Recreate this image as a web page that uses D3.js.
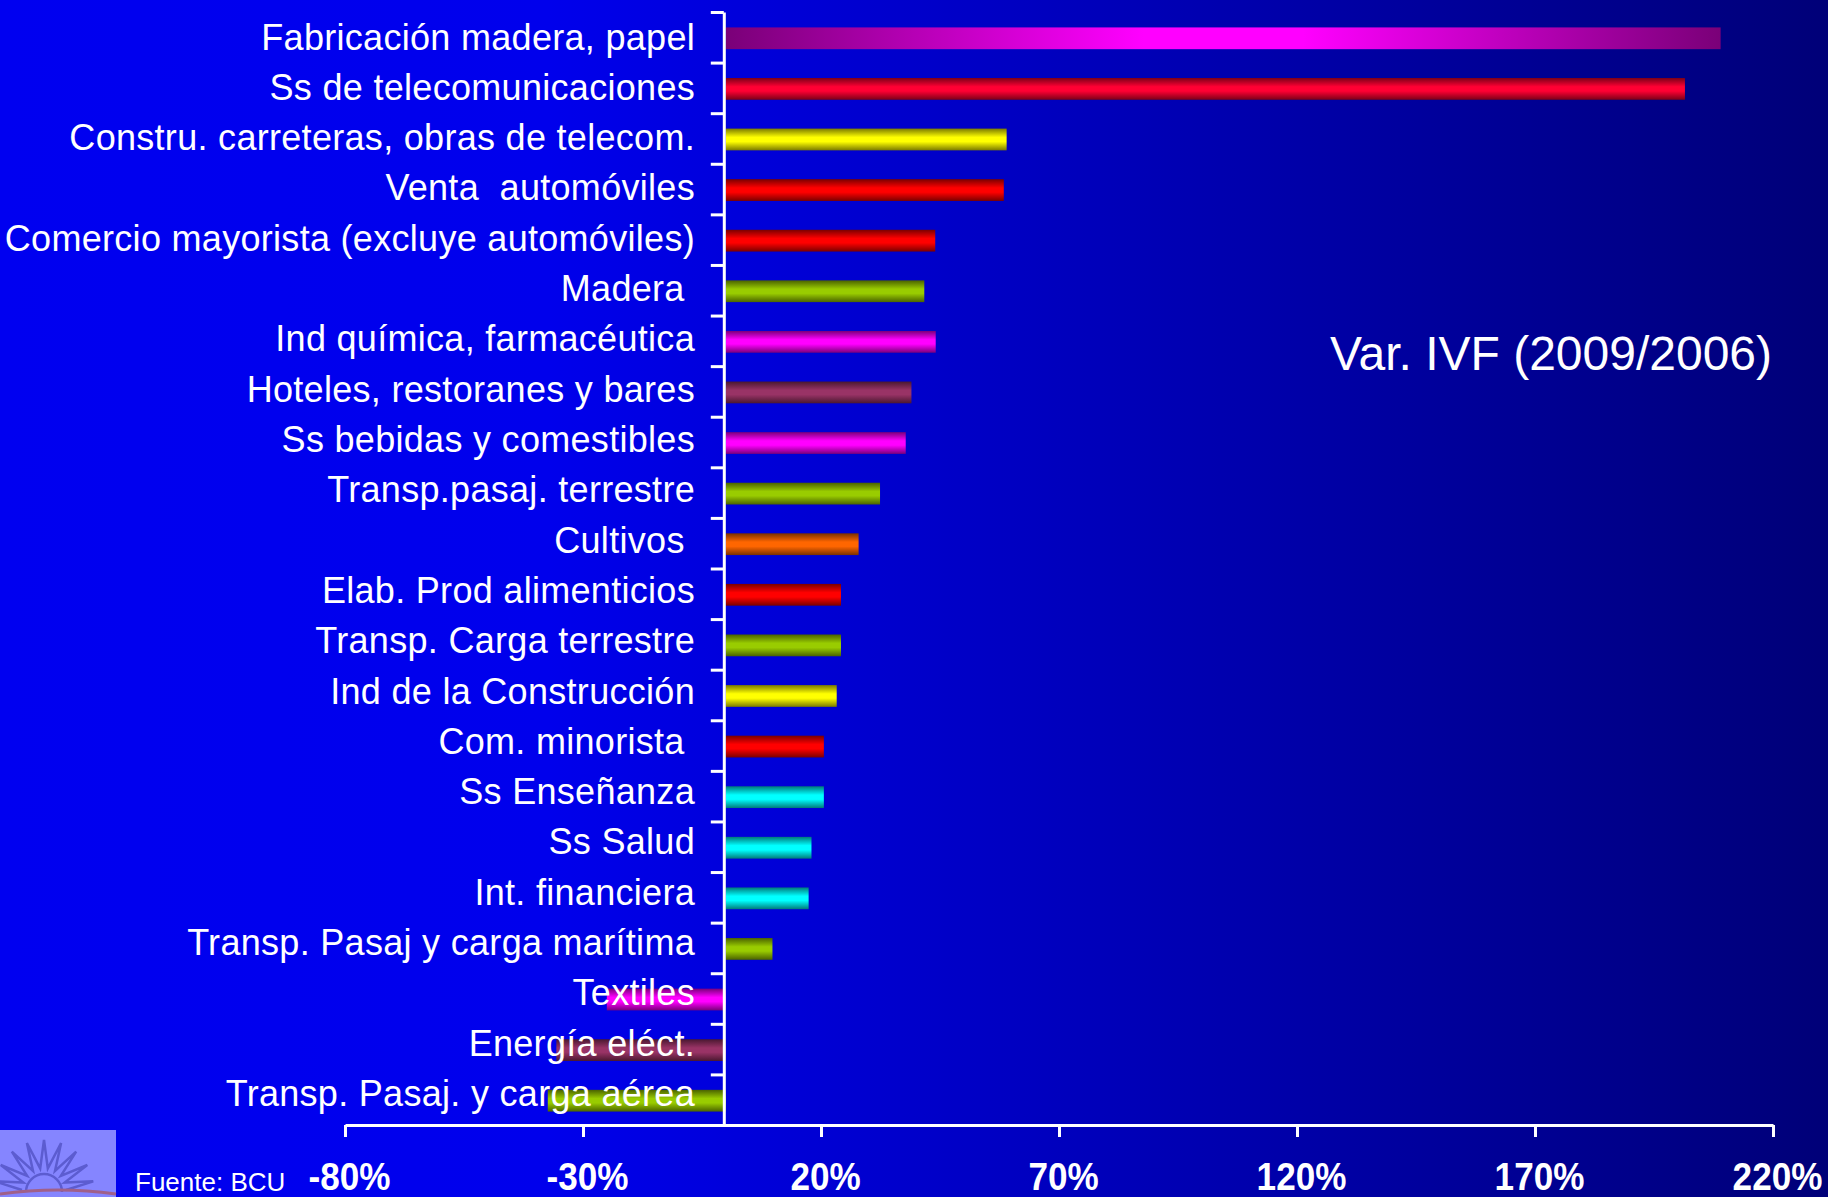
<!DOCTYPE html>
<html>
<head>
<meta charset="utf-8">
<script src="https://cdn.jsdelivr.net/npm/d3@7"></script>
<style>
  html, body { margin: 0; padding: 0; background: #0000f0; }
  svg { display: block; }
  text { font-family: "Liberation Sans", Arial, sans-serif; fill: #fff; white-space: pre; }
</style>
</head>
<body>
<svg id="chart" width="1828" height="1197"></svg>
<script>
// sectors, top to bottom
var categories = [
  "Fabricación madera, papel",
  "Ss de telecomunicaciones",
  "Constru. carreteras, obras de telecom.",
  "Venta  automóviles",
  "Comercio mayorista (excluye automóviles)",
  "Madera ",
  "Ind química, farmacéutica",
  "Hoteles, restoranes y bares",
  "Ss bebidas y comestibles",
  "Transp.pasaj. terrestre",
  "Cultivos ",
  "Elab. Prod alimenticios",
  "Transp. Carga terrestre",
  "Ind de la Construcción",
  "Com. minorista ",
  "Ss Enseñanza",
  "Ss Salud",
  "Int. financiera",
  "Transp. Pasaj y carga marítima",
  "Textiles",
  "Energía eléct.",
  "Transp. Pasaj. y carga aérea"
];
// Var. IVF 2009/2006, %
var values = [209, 201.5, 59, 58.4, 44, 41.7, 44.1, 39, 37.8, 32.4, 27.9, 24.2, 24.2, 23.3, 20.6, 20.6, 18, 17.4, 9.8, -25, -35.6, -37.4];
var colorKeys = ["fab", "crimson", "yellow", "red", "red", "green", "magenta", "plum", "magenta", "green", "orange", "red", "green", "yellow", "red", "cyan", "cyan", "cyan", "green", "magenta", "plum", "green"];
var xTicks = [-80, -30, 20, 70, 120, 170, 220];

var palette = {
  crimson: ["#7a0018", "#ff0033"],
  red: ["#7a0000", "#ff0000"],
  yellow: ["#7a7a00", "#ffff00"],
  green: ["#4a6200", "#99cc00"],
  magenta: ["#7a007a", "#ff00ff"],
  plum: ["#4a1830", "#993366"],
  orange: ["#7a3000", "#ff6600"],
  cyan: ["#007a7a", "#00ffff"]
};

var svg = d3.select("#chart");
var defs = svg.append("defs");

var bg = defs.append("linearGradient").attr("id", "bg").attr("x1", 0).attr("x2", 1).attr("y1", 0).attr("y2", 0);
bg.append("stop").attr("offset", 0).attr("stop-color", "#0000f0");
bg.append("stop").attr("offset", 0.3).attr("stop-color", "#0000ec");
bg.append("stop").attr("offset", 1).attr("stop-color", "#000078");

Object.keys(palette).forEach(function(k){
  var g = defs.append("linearGradient").attr("id", "g_" + k).attr("x1", 0).attr("x2", 0).attr("y1", 0).attr("y2", 1);
  g.append("stop").attr("offset", 0).attr("stop-color", palette[k][0]);
  g.append("stop").attr("offset", 0.4).attr("stop-color", palette[k][1]);
  g.append("stop").attr("offset", 0.6).attr("stop-color", palette[k][1]);
  g.append("stop").attr("offset", 1).attr("stop-color", palette[k][0]);
});
var fab = defs.append("linearGradient").attr("id", "g_fab").attr("x1", 0).attr("x2", 1).attr("y1", 0).attr("y2", 0);
fab.append("stop").attr("offset", 0).attr("stop-color", "#7a0078");
fab.append("stop").attr("offset", 0.42).attr("stop-color", "#ff00ff");
fab.append("stop").attr("offset", 0.58).attr("stop-color", "#ff00ff");
fab.append("stop").attr("offset", 1).attr("stop-color", "#7a0078");

svg.append("rect").attr("width", 1828).attr("height", 1197).attr("fill", "url(#bg)");

var x = d3.scaleLinear().domain([-80, 220]).range([345, 1773]);
var y = d3.scaleBand().domain(categories).range([12, 1125]).paddingInner(0.57).paddingOuter(0.285);
// label baselines run on a slightly tighter pitch than the bars
var yLabel = d3.scalePoint().domain(categories).range([49.5, 1106]);

// bars
svg.append("g").selectAll("rect")
  .data(values)
  .enter()
  .append("rect")
  .attr("x", function(d){ return x(Math.min(0, d)); })
  .attr("y", function(d, i){ return y(categories[i]) + 1; })
  .attr("width", function(d){ return Math.abs(x(d) - x(0)); })
  .attr("height", y.bandwidth())
  .attr("fill", function(d, i){ return "url(#g_" + colorKeys[i] + ")"; });

// y axis with ticks between categories
var yIdx = d3.scaleLinear().domain([0, categories.length]).range([12, 1125]);
var yAxis = svg.append("g")
  .attr("transform", "translate(" + (x(0) - 2) + ",0)")
  .call(d3.axisLeft(yIdx).ticks(categories.length).tickSize(13).tickSizeOuter(0).tickFormat(""));
yAxis.selectAll("path, line").attr("stroke", "#fff").attr("stroke-width", 3);

// x axis
var xAxis = svg.append("g")
  .attr("transform", "translate(0,1125)")
  .call(d3.axisBottom(x).tickValues(xTicks).tickSize(12).tickSizeOuter(0).tickFormat(function(d){ return d + "%"; }));
xAxis.selectAll("path, line").attr("stroke", "#fff").attr("stroke-width", 3);
xAxis.selectAll("text")
  .attr("y", 0).attr("dy", 0)
  .attr("transform", "translate(4,65) scale(0.9,1)")
  .attr("fill", "#fff")
  .style("font-family", "'Liberation Sans', Arial, sans-serif")
  .style("font-size", "39px")
  .style("font-weight", "bold");

// category labels
svg.append("g").selectAll("text")
  .data(categories)
  .enter()
  .append("text")
  .attr("x", 695)
  .attr("y", function(d){ return yLabel(d); })
  .attr("text-anchor", "end")
  .style("font-size", "36px")
  .style("letter-spacing", "0.3px")
  .text(function(d){ return d; });

svg.append("text")
  .attr("x", 1330).attr("y", 370)
  .style("font-size", "48px")
  .text("Var. IVF (2009/2006)");

// logo
var logo = svg.append("g").attr("transform", "translate(0,1130)");
logo.append("rect").attr("width", 116).attr("height", 67).attr("fill", "#8585ff");
var rays = [];
for (var k = 0; k <= 18; k++) {
  var a = Math.PI + k * Math.PI / 18;
  var r = k % 2 ? 50 : 22;
  rays.push([44 + r * Math.cos(a), 60 + r * Math.sin(a)]);
}
logo.append("path").attr("d", d3.line()(rays)).attr("fill", "none").attr("stroke", "#5c5cd0").attr("stroke-width", 2.5);
logo.append("path").attr("d", "M26,62 A18,18 0 0 1 62,62").attr("fill", "none").attr("stroke", "#5c5cd0").attr("stroke-width", 2.5);
logo.append("path").attr("d", "M0,64 Q58,56 116,64").attr("fill", "none").attr("stroke", "#a0608a").attr("stroke-width", 3);

svg.append("text")
  .attr("x", 135).attr("y", 1191)
  .style("font-size", "26px")
  .text("Fuente: BCU");
</script>
</body>
</html>
